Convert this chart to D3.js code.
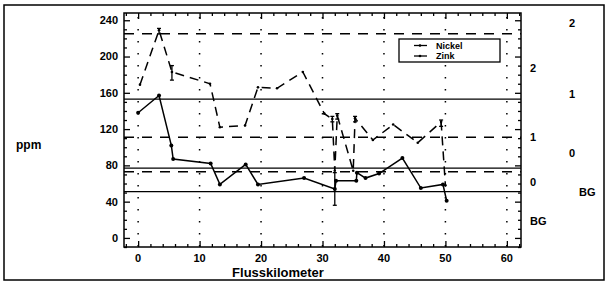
<!DOCTYPE html>
<html>
<head>
  <meta charset="UTF-8" />
  <title>Nickel und Zink</title>
  <script src="https://cdn.jsdelivr.net/npm/d3@7"></script>
  <style>
    body { margin: 0; background: #fff; }
    svg { font-family: 'Liberation Sans', Arial, sans-serif; font-weight: bold; }
  </style>
</head>
<body>
<svg width="607" height="282"></svg>
<script>
  // Flusskilometer / ppm
  const nickel = [
    [0, 138], [3.4, 157], [5.4, 102], [5.7, 87], [11.8, 82], [13.3, 59], [17.5, 81],
    [19.5, 59], [27, 66], [32, 54], [32.2, 63], [35.5, 63], [35.6, 72], [37, 66],
    [39.2, 71], [43, 88], [46, 55], [49.6, 59], [50.2, 41]
  ];
  const zink = [
    [0.3, 169], [3.4, 229], [5.5, 183], [11.7, 170], [13.3, 122], [17.4, 124],
    [19.5, 166], [22.6, 165], [26.8, 183], [30.3, 137], [31.6, 131], [32.0, 74],
    [32.4, 135], [35.0, 74], [35.3, 132], [38.2, 108], [41.5, 125], [45.5, 105],
    [49.3, 128], [50.0, 58]
  ];
  // error bars: km, low, high
  const nickelErr = [[32, 36, 72]];
  const zinkErr = [[3.4, 225, 231], [5.5, 174, 190], [31.6, 128, 134], [32.4, 131, 137], [35.3, 128, 134], [49.3, 123, 130]];

  // reference levels (ppm)
  const solidLevels = [153, 77, 51];
  const dashedLevels = [225, 111, 73];

  const xTicks = [0, 10, 20, 30, 40, 50, 60];
  const yTicks = [0, 40, 80, 120, 160, 200, 240];

  // class labels on the right: [text, ppm]
  const zinkClasses = [['2', 187], ['1', 111], ['0', 62], ['BG', 18]];
  const nickelClasses = [['2', 237], ['1', 159], ['0', 94], ['BG', 50]];

  const svg = d3.select('svg');
  const L = 124, R = 521, T = 13, B = 247;

  const x = d3.scaleLinear().domain([-2.3, 62.3]).range([L, R]);
  const y = d3.scaleLinear().domain([-10, 248]).range([B, T]);

  // outer frame
  svg.append('rect').attr('x', 4).attr('y', 5).attr('width', 600).attr('height', 275)
    .attr('fill', 'none').attr('stroke', '#000').attr('stroke-width', 1.5);

  // dotted verticals
  svg.append('g').selectAll('line').data(xTicks).enter().append('line')
    .attr('x1', d => x(d)).attr('x2', d => x(d)).attr('y1', T + 4).attr('y2', B)
    .attr('stroke', '#000').attr('stroke-width', 1.5).attr('stroke-dasharray', '1.5,10.5');

  // reference lines
  svg.append('g').selectAll('line').data(solidLevels).enter().append('line')
    .attr('x1', L).attr('x2', R).attr('y1', d => y(d)).attr('y2', d => y(d))
    .attr('stroke', '#000').attr('stroke-width', 1.3);
  svg.append('g').selectAll('line').data(dashedLevels).enter().append('line')
    .attr('x1', L).attr('x2', R).attr('y1', d => y(d)).attr('y2', d => y(d))
    .attr('stroke', '#000').attr('stroke-width', 1.5).attr('stroke-dasharray', '10,8');

  // axes: ticks pointing inwards
  const minorY = d3.range(-10, 249, 10).filter(v => v % 40 != 0);
  const minorX = d3.range(-2, 63, 2).filter(v => v % 10 != 0);

  svg.append('g').attr('transform', `translate(${L},0)`)
    .call(d3.axisRight(y).tickValues(yTicks).tickSize(6).tickFormat(''));
  svg.append('g').attr('transform', `translate(${L},0)`)
    .call(d3.axisRight(y).tickValues(minorY).tickSize(3).tickFormat(''));
  svg.append('g').attr('transform', `translate(${R},0)`)
    .call(d3.axisLeft(y).tickValues(yTicks).tickSize(6).tickFormat(''));
  svg.append('g').attr('transform', `translate(${R},0)`)
    .call(d3.axisLeft(y).tickValues(minorY).tickSize(3).tickFormat(''));
  svg.append('g').attr('transform', `translate(0,${B})`)
    .call(d3.axisTop(x).tickValues(xTicks).tickSize(6).tickFormat(''));
  svg.append('g').attr('transform', `translate(0,${B})`)
    .call(d3.axisTop(x).tickValues(minorX).tickSize(3).tickFormat(''));
  svg.append('g').attr('transform', `translate(0,${T})`)
    .call(d3.axisBottom(x).tickValues(xTicks).tickSize(6).tickFormat(''));
  svg.append('g').attr('transform', `translate(0,${T})`)
    .call(d3.axisBottom(x).tickValues(minorX).tickSize(3).tickFormat(''));
  svg.selectAll('.domain').attr('stroke', 'none');
  svg.selectAll('.tick line').attr('stroke', '#000').attr('stroke-width', 1.3);

  svg.append('rect').attr('x', L).attr('y', T).attr('width', R - L).attr('height', B - T)
    .attr('fill', 'none').attr('stroke', '#000').attr('stroke-width', 1.5);

  // tick labels
  svg.append('g').selectAll('text').data(yTicks).enter().append('text')
    .attr('x', L - 6).attr('y', d => y(d)).attr('dy', '0.35em')
    .attr('text-anchor', 'end').attr('font-size', 11).text(d => d);
  svg.append('g').selectAll('text').data(xTicks).enter().append('text')
    .attr('x', d => x(d)).attr('y', B + 11).attr('dy', '0.35em')
    .attr('text-anchor', 'middle').attr('font-size', 11).text(d => d);

  // axis titles
  svg.append('text').attr('x', 16).attr('y', 145).attr('dy', '0.35em')
    .attr('font-size', 12).text('ppm');
  svg.append('text').attr('x', 278).attr('y', 272).attr('dy', '0.35em')
    .attr('text-anchor', 'middle').attr('font-size', 13).text('Flusskilometer');

  // right-side class labels
  svg.append('g').selectAll('text').data(zinkClasses).enter().append('text')
    .attr('x', 530).attr('y', d => y(d[1])).attr('dy', '0.35em')
    .attr('font-size', 11).text(d => d[0]);
  svg.append('g').selectAll('text').data(nickelClasses).enter().append('text')
    .attr('x', d => d[0] == 'BG' ? 579 : 569).attr('y', d => y(d[1])).attr('dy', '0.35em')
    .attr('font-size', 11).text(d => d[0]);

  const line = d3.line().x(d => x(d[0])).y(d => y(d[1]));

  // error bars
  function errBars(data) {
    const g = svg.append('g').attr('stroke', '#000').attr('stroke-width', 1.3);
    data.forEach(d => {
      g.append('line').attr('x1', x(d[0])).attr('x2', x(d[0])).attr('y1', y(d[1])).attr('y2', y(d[2]));
      g.append('line').attr('x1', x(d[0]) - 2).attr('x2', x(d[0]) + 2).attr('y1', y(d[1])).attr('y2', y(d[1]));
      g.append('line').attr('x1', x(d[0]) - 2).attr('x2', x(d[0]) + 2).attr('y1', y(d[2])).attr('y2', y(d[2]));
    });
  }
  errBars(nickelErr);
  errBars(zinkErr);

  // series
  svg.append('path').datum(zink).attr('d', line).attr('fill', 'none')
    .attr('stroke', '#000').attr('stroke-width', 1.5).attr('stroke-dasharray', '9,6');
  svg.append('path').datum(nickel).attr('d', line).attr('fill', 'none')
    .attr('stroke', '#000').attr('stroke-width', 1.5);
  svg.append('g').selectAll('circle').data(nickel).enter().append('circle')
    .attr('cx', d => x(d[0])).attr('cy', d => y(d[1])).attr('r', 2).attr('fill', '#000');
  svg.append('g').selectAll('circle').data(zink).enter().append('circle')
    .attr('cx', d => x(d[0])).attr('cy', d => y(d[1])).attr('r', 1.3).attr('fill', '#000');

  // legend
  const lg = svg.append('g');
  lg.append('rect').attr('x', 399).attr('y', 39).attr('width', 101).attr('height', 23)
    .attr('fill', '#fff').attr('stroke', '#000').attr('stroke-width', 1.3);
  [['Nickel', 45.5], ['Zink', 56]].forEach(d => {
    lg.append('line').attr('x1', 414).attr('x2', 427).attr('y1', d[1]).attr('y2', d[1])
      .attr('stroke', '#000').attr('stroke-width', 1.3);
    lg.append('circle').attr('cx', 420).attr('cy', d[1]).attr('r', 1.3).attr('fill', '#000');
    lg.append('text').attr('x', 436).attr('y', d[1]).attr('dy', '0.35em')
      .attr('font-size', 9).text(d[0]);
  });
</script>
</body>
</html>
